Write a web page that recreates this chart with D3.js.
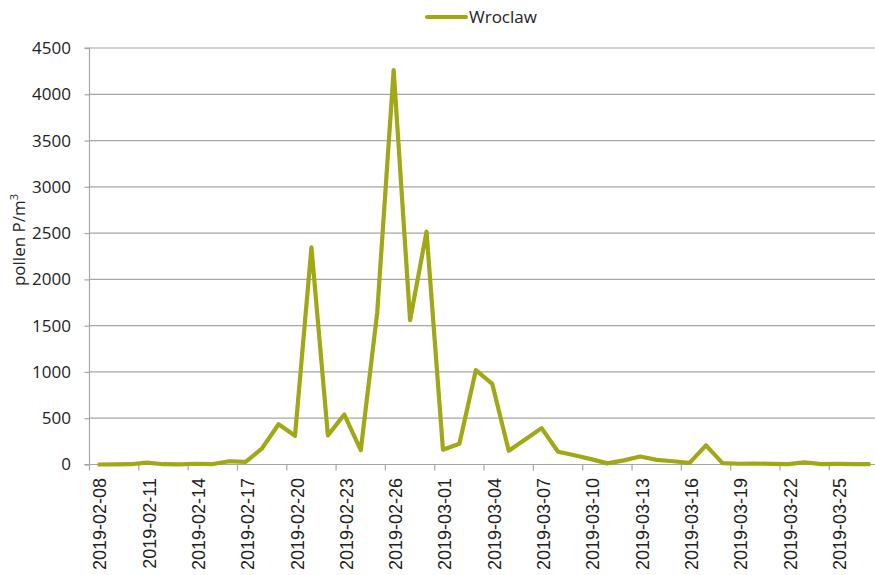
<!DOCTYPE html>
<html><head><meta charset="utf-8">
<script src="https://cdn.jsdelivr.net/npm/d3@7/dist/d3.min.js"></script>
<style>body{margin:0;background:#fff;} svg{display:block;}</style>
</head><body>
<svg id="chart" width="875" height="575"></svg>
<script>
const dates = ["2019-02-08","2019-02-09","2019-02-10","2019-02-11","2019-02-12","2019-02-13","2019-02-14","2019-02-15","2019-02-16","2019-02-17","2019-02-18","2019-02-19","2019-02-20","2019-02-21","2019-02-22","2019-02-23","2019-02-24","2019-02-25","2019-02-26","2019-02-27","2019-02-28","2019-03-01","2019-03-02","2019-03-03","2019-03-04","2019-03-05","2019-03-06","2019-03-07","2019-03-08","2019-03-09","2019-03-10","2019-03-11","2019-03-12","2019-03-13","2019-03-14","2019-03-15","2019-03-16","2019-03-17","2019-03-18","2019-03-19","2019-03-20","2019-03-21","2019-03-22","2019-03-23","2019-03-24","2019-03-25","2019-03-26","2019-03-27"];
const wroclaw = [0,2,3,20,3,2,8,5,35,28,175,435,310,2345,315,540,155,1640,4260,1560,2515,160,225,1020,870,148,270,393,138,100,58,12,45,86,50,35,18,207,15,8,10,6,5,24,5,6,5,4];
const yTicks = [0,500,1000,1500,2000,2500,3000,3500,4000,4500];
const seriesName = "Wroclaw";
const yTitle = "pollen P/m";

(function(){
const color = "#a0a815";
const svg = d3.select("#chart");
const mLeft = 89.5, mBottom = 464.5, mTop = 48;
const step = 16.44;
const x = d3.scaleBand().domain(dates).range([mLeft, mLeft + step * dates.length]).padding(0);
const y = d3.scaleLinear().domain([0, 4500]).range([mBottom, mTop]);
const mRight = 875;

// gridlines
svg.append("g").selectAll("line").data(yTicks.filter(d => d > 0)).join("line")
  .attr("x1", mLeft).attr("x2", mRight)
  .attr("y1", d => y(d)).attr("y2", d => y(d))
  .attr("stroke", "#a6a6a6").attr("stroke-width", 1.2);

// y axis
const yAxis = d3.axisLeft(y).tickValues(yTicks).tickSize(5).tickPadding(13.5).tickFormat(d3.format("d"));
const gy = svg.append("g").attr("transform", `translate(${mLeft},0)`).call(yAxis);
gy.select(".domain").attr("stroke", "#a6a6a6").attr("stroke-width", 1.2).attr("d", `M-5,${mTop}H0V${mBottom}H-5`);
gy.selectAll(".tick line").attr("stroke", "#a6a6a6").attr("stroke-width", 1.2);
gy.selectAll(".tick text").attr("font-family", "Open Sans, sans-serif").attr("font-size", 17).attr("fill", "#222");

// x axis
const labelDates = dates.filter((d, i) => i % 3 === 0);
const gx = svg.append("g").attr("transform", `translate(0,${mBottom})`);
gx.append("line").attr("x1", mLeft).attr("x2", mRight).attr("y1", 0).attr("y2", 0)
  .attr("stroke", "#a6a6a6").attr("stroke-width", 1.2);
gx.selectAll("line.tk").data(labelDates).join("line").attr("class", "tk")
  .attr("x1", d => x(d)).attr("x2", d => x(d)).attr("y1", 0).attr("y2", 6)
  .attr("stroke", "#a6a6a6").attr("stroke-width", 1.2);
gx.selectAll("text").data(labelDates).join("text")
  .attr("transform", d => `translate(${x(d) + x.bandwidth() / 2 + 8.5},${13.5}) rotate(-90)`)
  .attr("text-anchor", "end")
  .attr("font-family", "Liberation Sans, Arial, sans-serif").attr("font-size", 18).attr("fill", "#222")
  .text(d => d);

// line
const line = d3.line().x((d, i) => x(dates[i]) + x.bandwidth() / 2).y(d => y(d));
svg.append("path").datum(wroclaw).attr("d", line)
  .attr("fill", "none").attr("stroke", color).attr("stroke-width", 4.2).attr("stroke-linejoin", "round");

// y title
const yt = svg.append("text").attr("transform", `translate(25,${240}) rotate(-90)`)
  .attr("text-anchor", "middle").attr("font-family", "Open Sans, sans-serif").attr("font-size", 17).attr("fill", "#222");
yt.append("tspan").text(yTitle);
yt.append("tspan").attr("font-size", 11).attr("dy", -7).text("3");

// legend
svg.append("line").attr("x1", 427).attr("x2", 466).attr("y1", 17).attr("y2", 17)
  .attr("stroke", color).attr("stroke-width", 4.2).attr("stroke-linecap", "round");
svg.append("text").attr("x", 469).attr("y", 23).attr("font-family", "Open Sans, sans-serif")
  .attr("font-size", 17).attr("fill", "#222").text(seriesName);
})();
</script>
</body></html>
